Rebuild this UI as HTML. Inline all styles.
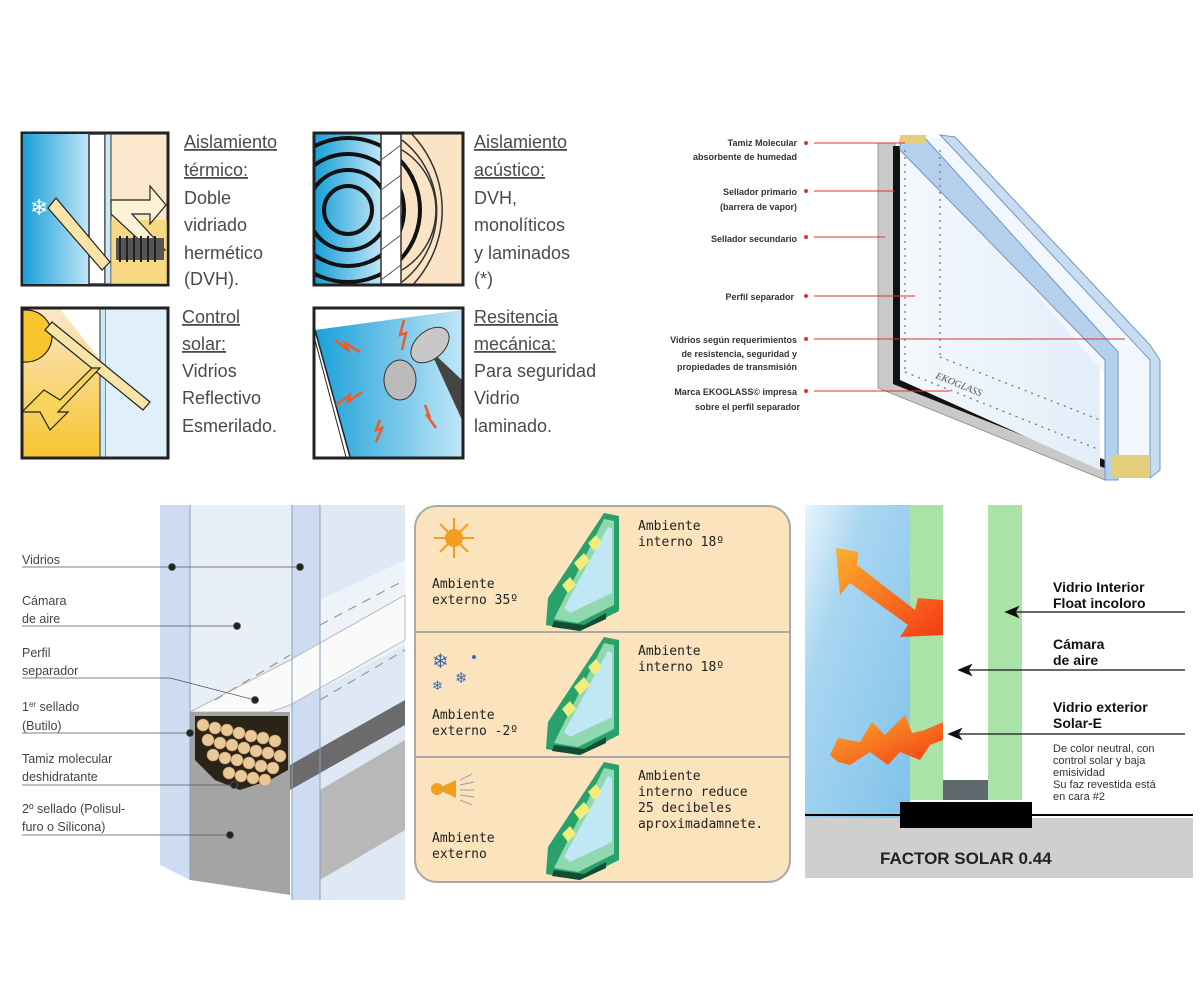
<!DOCTYPE html>
<html><head><meta charset="utf-8"><style>
html,body{margin:0;padding:0;background:#fff;}
svg{display:block;}
.cap{font-family:"Liberation Sans Narrow","Liberation Sans",sans-serif;font-size:18px;fill:#4a4a4a;}
.b{font-family:"Liberation Sans",sans-serif;font-size:9px;font-weight:bold;fill:#333;}
.bl{font-family:"Liberation Sans Narrow","Liberation Sans",sans-serif;font-size:12.5px;fill:#444;}
.mono{font-family:"DejaVu Sans Mono","Liberation Mono",monospace;font-size:13px;fill:#222;}
.rb{font-family:"Liberation Sans",sans-serif;font-size:14px;font-weight:bold;fill:#111;}
.rs{font-family:"Liberation Sans",sans-serif;font-size:11px;fill:#333;}
</style></head><body>
<svg width="1200" height="1000" viewBox="0 0 1200 1000" xmlns="http://www.w3.org/2000/svg">
<defs>
<linearGradient id="blue" x1="0" y1="0" x2="1" y2="0"><stop offset="0" stop-color="#1aa0d8"/><stop offset="1" stop-color="#bfe6f7"/></linearGradient>
<linearGradient id="warm" x1="0" y1="1" x2="0" y2="0"><stop offset="0" stop-color="#f7c52e"/><stop offset="1" stop-color="#fbe7c8"/></linearGradient>
<linearGradient id="sky" x1="0" y1="0" x2="1" y2="1"><stop offset="0" stop-color="#e8f5fd"/><stop offset="0.3" stop-color="#a9d6f1"/><stop offset="1" stop-color="#7fc2ea"/></linearGradient>
<linearGradient id="arr" x1="0" y1="0" x2="1" y2="1"><stop offset="0" stop-color="#fbb02c"/><stop offset="1" stop-color="#f43a14"/></linearGradient>
<linearGradient id="gl" x1="0" y1="0" x2="1" y2="0"><stop offset="0" stop-color="#f4f8fd"/><stop offset="1" stop-color="#e3eef9"/></linearGradient>
<clipPath id="c2"><rect x="315" y="134" width="147" height="150"/></clipPath>
<clipPath id="c3"><rect x="23" y="309" width="144" height="148"/></clipPath>
<clipPath id="c4"><rect x="315" y="309" width="147" height="148"/></clipPath>
<g id="prism">
<polygon points="60,0 75,3 75,98 35,118 2,112 4,85" fill="#2aa06a"/>
<polygon points="60,6 70,8 70,92 34,110 10,106" fill="#8fd8b0"/>
<polygon points="64,14 68,16 68,80 26,100 20,95" fill="#bfe8f4"/>
<polygon points="30,50 40,40 46,48 36,58" fill="#f1ef7a"/>
<polygon points="18,72 26,64 32,72 24,80" fill="#f1ef7a"/>
<polygon points="44,30 52,22 58,30 50,38" fill="#f1ef7a"/>
<polygon points="10,108 40,112 62,100 62,106 36,118 8,114" fill="#114d33"/>
</g>
</defs>

<!-- ICON 1 -->
<g>
<rect x="22" y="133" width="146" height="152" fill="#fbe7cc" stroke="#222" stroke-width="3"/>
<rect x="23" y="134" width="66" height="150" fill="url(#blue)"/>
<rect x="89" y="134" width="16" height="150" fill="#fff" stroke="#333" stroke-width="1.5"/>
<rect x="105" y="134" width="6" height="150" fill="#cde9f5" stroke="#333" stroke-width="1"/>
<rect x="111" y="220" width="56" height="64" fill="#f6cf52" opacity="0.6"/>
<polygon points="111,200 150,200 150,186 166,205 150,224 150,214 132,214 165,250 150,250 111,214" fill="#fdf1d6" stroke="#222" stroke-width="1.2"/>
<polygon points="48,208 56,198 110,262 102,270" fill="#f7e4a7" stroke="#222" stroke-width="1.2"/>
<rect x="116" y="238" width="48" height="22" fill="#555"/>
<g stroke="#222" stroke-width="2"><line x1="120" y1="236" x2="120" y2="262"/><line x1="127" y1="236" x2="127" y2="262"/><line x1="134" y1="236" x2="134" y2="262"/><line x1="141" y1="236" x2="141" y2="262"/><line x1="148" y1="236" x2="148" y2="262"/><line x1="155" y1="236" x2="155" y2="262"/></g>
<text x="30" y="215" font-size="22" fill="#fff" font-family="DejaVu Sans">❄</text>
</g>
<text class="cap" x="184" y="148" text-decoration="underline">Aislamiento</text>
<text class="cap" x="184" y="176" text-decoration="underline">térmico:</text>
<text class="cap" x="184" y="204">Doble</text>
<text class="cap" x="184" y="231">vidriado</text>
<text class="cap" x="184" y="259">hermético</text>
<text class="cap" x="184" y="285">(DVH).</text>

<!-- ICON 2 -->
<g>
<rect x="314" y="133" width="149" height="152" fill="#fbe3c6"/>
<g clip-path="url(#c2)">
<rect x="315" y="134" width="66" height="150" fill="url(#blue)"/>
<g fill="none" stroke="#111" stroke-width="4">
<circle cx="348" cy="210" r="24"/><circle cx="348" cy="210" r="40"/><circle cx="348" cy="210" r="56"/><circle cx="348" cy="210" r="72"/>
</g>
<rect x="381" y="134" width="20" height="150" fill="#fff" stroke="#333" stroke-width="1.5"/>
<g stroke="#555" stroke-width="1"><line x1="381" y1="160" x2="401" y2="145"/><line x1="381" y1="190" x2="401" y2="175"/><line x1="381" y1="220" x2="401" y2="205"/><line x1="381" y1="250" x2="401" y2="235"/><line x1="381" y1="280" x2="401" y2="265"/></g>
<g fill="none" stroke="#333" stroke-width="1.5"><path d="M402,150 A70,70 0 0 1 402,270"/><path d="M402,140 A90,90 0 0 1 402,282"/><path d="M402,125 A110,110 0 0 1 402,295"/></g>
</g>
<rect x="314" y="133" width="149" height="152" fill="none" stroke="#222" stroke-width="3"/>
</g>
<text class="cap" x="474" y="148" text-decoration="underline">Aislamiento</text>
<text class="cap" x="474" y="176" text-decoration="underline">acústico:</text>
<text class="cap" x="474" y="204">DVH,</text>
<text class="cap" x="474" y="231">monolíticos</text>
<text class="cap" x="474" y="259">y laminados</text>
<text class="cap" x="474" y="285">(*)</text>

<!-- ICON 3 -->
<g>
<rect x="22" y="308" width="146" height="150" fill="#fff"/>
<g clip-path="url(#c3)">
<polygon points="23,309 60,309 100,360 100,457 23,457" fill="url(#warm)"/>
<rect x="100" y="309" width="6" height="148" fill="#cde9f5" stroke="#333" stroke-width="1"/>
<rect x="106" y="309" width="61" height="148" fill="#dff0fa"/>
<circle cx="26" cy="336" r="26" fill="#f7c52e" stroke="#222" stroke-width="1.2"/>
<polygon points="45,330 52,322 150,402 143,410" fill="#f7e4a7" stroke="#222" stroke-width="1.2"/>
<polygon points="100,368 58,412 68,412 50,430 40,412 22,412 44,390 60,400 92,368" fill="#f7d35a" stroke="#222" stroke-width="1.2"/>
</g>
<rect x="22" y="308" width="146" height="150" fill="none" stroke="#222" stroke-width="3"/>
</g>
<text class="cap" x="182" y="323" text-decoration="underline">Control</text>
<text class="cap" x="182" y="350" text-decoration="underline">solar:</text>
<text class="cap" x="182" y="377">Vidrios</text>
<text class="cap" x="182" y="404">Reflectivo</text>
<text class="cap" x="182" y="432">Esmerilado.</text>

<!-- ICON 4 -->
<g>
<rect x="314" y="308" width="149" height="150" fill="#fff"/>
<g clip-path="url(#c4)">
<polygon points="315,330 462,310 462,457 350,457" fill="url(#blue)"/>
<line x1="315" y1="330" x2="350" y2="457" stroke="#222" stroke-width="1.5"/>
<line x1="315" y1="340" x2="346" y2="457" stroke="#222" stroke-width="1"/>
<polygon points="430,350 462,380 462,420" fill="#444"/>
<ellipse cx="430" cy="345" rx="22" ry="14" fill="#c8c8c8" stroke="#333" transform="rotate(-40 430 345)"/>
<ellipse cx="400" cy="380" rx="16" ry="20" fill="#bbb" stroke="#333"/>
<g stroke="#f05a28" stroke-width="2.5" fill="none">
<polyline points="335,340 348,350 345,343 360,352"/><polyline points="404,320 400,335 406,333 402,350"/>
<polyline points="336,405 350,395 348,402 362,392"/><polyline points="380,420 376,430 382,428 376,442"/><polyline points="425,405 430,418 426,414 436,428"/>
</g>
</g>
<rect x="314" y="308" width="149" height="150" fill="none" stroke="#222" stroke-width="3"/>
</g>
<text class="cap" x="474" y="323" text-decoration="underline">Resitencia</text>
<text class="cap" x="474" y="350" text-decoration="underline">mecánica:</text>
<text class="cap" x="474" y="377">Para seguridad</text>
<text class="cap" x="474" y="404">Vidrio</text>
<text class="cap" x="474" y="432">laminado.</text>

<!-- TOP RIGHT WINDOW -->
<g>
<polygon points="878,143 895,143 895,383 1105,468 1105,480 878,388" fill="#c9c9c9" stroke="#888" stroke-width="0.8"/>
<polygon points="893,146 900,146 900,378 1110,462 1110,470 893,384" fill="#111"/>
<polygon points="900,146 940,140 1100,300 1100,470 900,380" fill="url(#gl)"/>
<polygon points="905,142 945,137 1150,345 1155,475 1115,478 1110,380" fill="#f2f7fd"/>
<polygon points="900,140 925,138 1118,352 1118,480 1105,480 1105,360 900,150" fill="#b5d0ec" stroke="#6f97c3" stroke-width="1"/>
<polygon points="940,135 955,137 1150,345 1160,360 1160,470 1150,478 1150,360 945,140" fill="#c8dcf1" stroke="#6f97c3" stroke-width="1"/>
<g fill="none" stroke="#777" stroke-width="1.3" stroke-dasharray="2,5">
<line x1="905" y1="150" x2="905" y2="370"/><line x1="940" y1="150" x2="940" y2="355"/>
<line x1="905" y1="372" x2="1100" y2="450"/><line x1="940" y1="357" x2="1100" y2="420"/>
</g>
<text x="935" y="378" font-family="Liberation Serif" font-size="10" font-style="italic" fill="#555" transform="rotate(22 935 378)">EKOGLASS</text>
<rect x="900" y="135" width="26" height="8" fill="#e3cf7a"/>
<polygon points="1112,455 1150,455 1150,478 1112,478" fill="#e3cf7a"/>
</g>
<text class="b" x="797" y="146" text-anchor="end">Tamiz Molecular</text>
<text class="b" x="797" y="160" text-anchor="end">absorbente de humedad</text>
<text class="b" x="797" y="195" text-anchor="end">Sellador primario</text>
<text class="b" x="797" y="210" text-anchor="end">(barrera de vapor)</text>
<text class="b" x="797" y="242" text-anchor="end">Sellador secundario</text>
<text class="b" x="794" y="300" text-anchor="end">Perfil separador</text>
<text class="b" x="797" y="343" text-anchor="end">Vidrios según requerimientos</text>
<text class="b" x="797" y="357" text-anchor="end">de resistencia, seguridad y</text>
<text class="b" x="797" y="370" text-anchor="end">propiedades de transmisión</text>
<text class="b" x="797" y="395" text-anchor="end">Marca EKOGLASS© impresa</text>
<text class="b" x="800" y="410" text-anchor="end">sobre el perfil separador</text>
<g fill="#d33" stroke="#d33" stroke-width="1">
<line x1="814" y1="143" x2="905" y2="143"/><line x1="814" y1="191" x2="895" y2="191"/>
<line x1="814" y1="237" x2="885" y2="237"/><line x1="814" y1="296" x2="915" y2="296"/>
<line x1="814" y1="339" x2="1125" y2="339"/><line x1="814" y1="391" x2="950" y2="391"/>
<circle cx="806" cy="143" r="1.5"/><circle cx="806" cy="191" r="1.5"/><circle cx="806" cy="237" r="1.5"/><circle cx="806" cy="296" r="1.5"/><circle cx="806" cy="339" r="1.5"/><circle cx="806" cy="391" r="1.5"/>
</g>

<!-- BOTTOM LEFT -->
<g>
<rect x="160" y="505" width="245" height="395" fill="#fff"/>
<polygon points="160,505 190,505 190,880 160,865" fill="#cddcf0"/>
<polygon points="190,505 292,505 292,712 190,712" fill="#e8eff9"/>
<polygon points="292,505 320,505 320,900 292,900" fill="#cddcf0"/>
<polygon points="320,505 405,505 405,900 320,900" fill="#dfe8f5"/>
<polygon points="320,600 405,560 405,645 320,690" fill="#eef3fa"/>
<polygon points="190,712 290,660 405,595 405,640 290,705 270,712" fill="#fafafa" stroke="#bbb"/>
<polygon points="290,765 405,700 405,725 290,790" fill="#6b6b6b"/>
<polygon points="320,790 405,740 405,830 320,880" fill="#b8b8b8"/>
<polygon points="190,712 290,712 290,895 190,880" fill="#a4a4a4"/>
<polygon points="195,716 288,716 288,770 270,780 240,790 215,780 195,760" fill="#2a2418"/>
<g fill="#e9c89a" stroke="#b98a55" stroke-width="0.6">
<circle cx="203" cy="725" r="6"/><circle cx="215" cy="728" r="6"/><circle cx="227" cy="730" r="6"/><circle cx="239" cy="733" r="6"/><circle cx="251" cy="736" r="6"/><circle cx="263" cy="738" r="6"/><circle cx="275" cy="741" r="6"/>
<circle cx="208" cy="740" r="6"/><circle cx="220" cy="743" r="6"/><circle cx="232" cy="745" r="6"/><circle cx="244" cy="748" r="6"/><circle cx="256" cy="751" r="6"/><circle cx="268" cy="753" r="6"/><circle cx="280" cy="756" r="6"/>
<circle cx="213" cy="755" r="6"/><circle cx="225" cy="758" r="6"/><circle cx="237" cy="760" r="6"/><circle cx="249" cy="763" r="6"/><circle cx="261" cy="766" r="6"/><circle cx="273" cy="768" r="6"/>
<circle cx="229" cy="773" r="6"/><circle cx="241" cy="776" r="6"/><circle cx="253" cy="778" r="6"/><circle cx="265" cy="780" r="6"/>
</g>
<g stroke="#999" stroke-width="1.2" stroke-dasharray="9,7"><line x1="215" y1="700" x2="290" y2="655"/><line x1="320" y1="625" x2="405" y2="580"/><line x1="320" y1="700" x2="405" y2="650"/></g>
<line x1="190" y1="505" x2="190" y2="880" stroke="#8aa0bd"/><line x1="292" y1="505" x2="292" y2="900" stroke="#8aa0bd"/><line x1="320" y1="505" x2="320" y2="900" stroke="#8aa0bd"/>
</g>
<g stroke="#555" stroke-width="0.8" fill="#222">
<line x1="22" y1="567" x2="300" y2="567"/><circle cx="172" cy="567" r="3.5"/><circle cx="300" cy="567" r="3.5"/>
<line x1="22" y1="626" x2="237" y2="626"/><circle cx="237" cy="626" r="3.5"/>
<line x1="22" y1="678" x2="170" y2="678"/><line x1="170" y1="678" x2="255" y2="700"/><circle cx="255" cy="700" r="3.5"/>
<line x1="22" y1="733" x2="190" y2="733"/><circle cx="190" cy="733" r="3.5"/>
<line x1="22" y1="785" x2="234" y2="785"/><circle cx="234" cy="785" r="3.5"/>
<line x1="22" y1="835" x2="230" y2="835"/><circle cx="230" cy="835" r="3.5"/>
</g>
<text class="bl" x="22" y="564">Vidrios</text>
<text class="bl" x="22" y="605">Cámara</text><text class="bl" x="22" y="623">de aire</text>
<text class="bl" x="22" y="657">Perfil</text><text class="bl" x="22" y="675">separador</text>
<text class="bl" x="22" y="711">1<tspan font-size="8" dy="-4">er</tspan><tspan dy="4"> sellado</tspan></text><text class="bl" x="22" y="730">(Butilo)</text>
<text class="bl" x="22" y="763">Tamiz molecular</text><text class="bl" x="22" y="781">deshidratante</text>
<text class="bl" x="22" y="813">2º sellado (Polisul-</text><text class="bl" x="22" y="831">furo o Silicona)</text>

<!-- MIDDLE PANEL -->
<rect x="415" y="506" width="375" height="376" rx="22" fill="#fbe4bd" stroke="#aaa" stroke-width="2"/>
<line x1="416" y1="632" x2="789" y2="632" stroke="#aaa" stroke-width="2"/>
<line x1="416" y1="757" x2="789" y2="757" stroke="#aaa" stroke-width="2"/>
<g stroke="#f59d1e" stroke-width="2"><line x1="454" y1="518" x2="454" y2="558"/><line x1="434" y1="538" x2="474" y2="538"/><line x1="440" y1="524" x2="468" y2="552"/><line x1="440" y1="552" x2="468" y2="524"/></g>
<circle cx="454" cy="538" r="9" fill="#f59d1e"/>
<text x="432" y="668" font-size="20" fill="#3a66b0" font-family="DejaVu Sans">❄</text>
<text x="432" y="690" font-size="13" fill="#3a66b0" font-family="DejaVu Sans">❄</text>
<text x="455" y="683" font-size="15" fill="#3a66b0" font-family="DejaVu Sans">❄</text>
<circle cx="474" cy="657" r="2" fill="#3a66b0"/>
<circle cx="437" cy="789" r="6" fill="#f0a020"/><polygon points="441,787 456,780 456,798 441,791" fill="#f0a020"/>
<g stroke="#aaa" stroke-width="1.2"><line x1="460" y1="780" x2="472" y2="774"/><line x1="460" y1="785" x2="474" y2="782"/><line x1="460" y1="790" x2="474" y2="790"/><line x1="460" y1="795" x2="474" y2="797"/><line x1="460" y1="800" x2="472" y2="805"/></g>
<use href="#prism" x="544" y="513"/>
<use href="#prism" x="544" y="637"/>
<use href="#prism" x="544" y="762"/>
<text class="mono" x="638" y="530">Ambiente</text><text class="mono" x="638" y="546">interno 18º</text>
<text class="mono" x="432" y="588">Ambiente</text><text class="mono" x="432" y="604">externo 35º</text>
<text class="mono" x="638" y="655">Ambiente</text><text class="mono" x="638" y="671">interno 18º</text>
<text class="mono" x="432" y="719">Ambiente</text><text class="mono" x="432" y="735">externo -2º</text>
<text class="mono" x="638" y="780">Ambiente</text><text class="mono" x="638" y="796">interno reduce</text>
<text class="mono" x="638" y="812">25 decibeles</text><text class="mono" x="638" y="828">aproximadamnete.</text>
<text class="mono" x="432" y="842">Ambiente</text><text class="mono" x="432" y="858">externo</text>

<!-- RIGHT PANEL -->
<rect x="805" y="505" width="105" height="313" fill="url(#sky)"/>
<rect x="910" y="505" width="33" height="295" fill="#a9e3a8"/>
<rect x="988" y="505" width="34" height="295" fill="#a9e3a8"/>
<rect x="943" y="780" width="45" height="20" fill="#5f6a6e"/>
<rect x="805" y="818" width="388" height="60" fill="#cfcfcf"/>
<line x1="805" y1="815" x2="1193" y2="815" stroke="#000" stroke-width="2"/>
<rect x="900" y="802" width="132" height="26" fill="#000"/>
<polygon points="836,548 858,552 857,565 915,610 918,598 943,600 943,635 900,637 908,625 850,583 840,595" fill="url(#arr)"/>
<polygon points="830,755 838,738 860,742 872,722 885,735 905,715 912,733 925,730 943,722 943,740 930,745 920,760 900,752 888,765 870,752 850,765 838,762" fill="url(#arr)"/>
<g stroke="#111" stroke-width="1.3" fill="#111">
<line x1="1010" y1="612" x2="1185" y2="612"/><polygon points="1006,612 1018,607 1015,612 1018,617"/>
<line x1="963" y1="670" x2="1185" y2="670"/><polygon points="959,670 971,665 968,670 971,675"/>
<line x1="953" y1="734" x2="1185" y2="734"/><polygon points="949,734 961,729 958,734 961,739"/>
</g>
<text class="rb" x="1053" y="592">Vidrio Interior</text><text class="rb" x="1053" y="608">Float incoloro</text>
<text class="rb" x="1053" y="649">Cámara</text><text class="rb" x="1053" y="665">de aire</text>
<text class="rb" x="1053" y="712">Vidrio exterior</text><text class="rb" x="1053" y="728">Solar-E</text>
<text class="rs" x="1053" y="752">De color neutral, con</text><text class="rs" x="1053" y="764">control solar y baja</text>
<text class="rs" x="1053" y="776">emisividad</text><text class="rs" x="1053" y="788">Su faz revestida está</text><text class="rs" x="1053" y="800">en cara #2</text>
<text x="880" y="864" font-family="Liberation Sans" font-weight="bold" font-size="17" fill="#222">FACTOR SOLAR 0.44</text>
</svg>
</body></html>
